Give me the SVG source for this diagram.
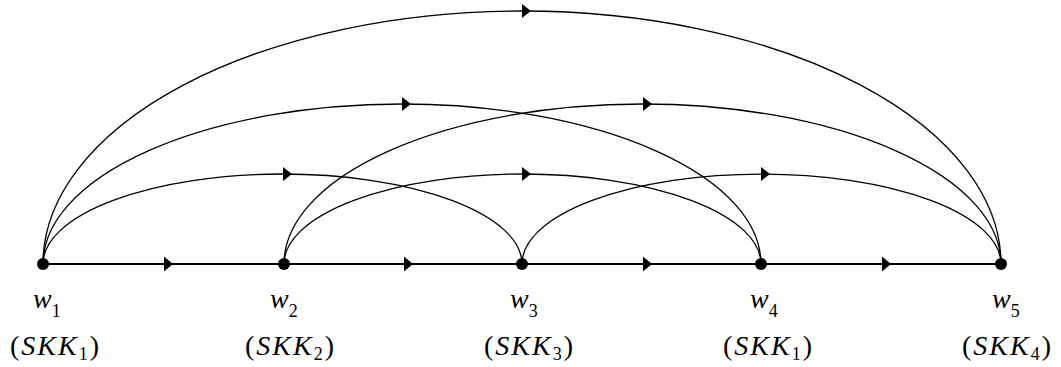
<svg xmlns="http://www.w3.org/2000/svg" width="1061" height="367" viewBox="0 0 1061 367">
<style>
.arc{fill:none;stroke:#000;stroke-width:1.3}
.edge{fill:none;stroke:#000;stroke-width:2}
.head{fill:#000}
.node{fill:#000}
.lbl{font-family:"Liberation Serif",serif;font-style:italic;font-size:28px;fill:#000}
.sub{font-size:18px;font-style:normal}
.up{font-style:normal}
.par{letter-spacing:2px}
</style>
<rect width="1061" height="367" fill="#fff"/>
<g id="connectors">
  <path class="edge" d="M43 264 H1001"/>
  <path class="arc" d="M43 264 A239.5 90 0 0 1 522 264"/>
  <path class="arc" d="M284 264 A238.5 90 0 0 1 761 264"/>
  <path class="arc" d="M522 264 A239.5 90 0 0 1 1001 264"/>
  <path class="arc" d="M43 264 A359 160 0 0 1 761 264"/>
  <path class="arc" d="M284 264 A358.5 160 0 0 1 1001 264"/>
  <path class="arc" d="M43 264 A479 253 0 0 1 1001 264"/>
  <path class="head" d="M164 256.5 L173 264 L164 271.5 Z"/>
  <path class="head" d="M404 256.5 L413 264 L404 271.5 Z"/>
  <path class="head" d="M643 256.5 L652 264 L643 271.5 Z"/>
  <path class="head" d="M882 256.5 L891 264 L882 271.5 Z"/>
  <path class="head" d="M283 167 L292 174 L283 181 Z"/>
  <path class="head" d="M522 167 L531 174 L522 181 Z"/>
  <path class="head" d="M761 167 L770 174 L761 181 Z"/>
  <path class="head" d="M402 97 L411 104 L402 111 Z"/>
  <path class="head" d="M643 97 L652 104 L643 111 Z"/>
  <path class="head" d="M522 4 L531 11 L522 18 Z"/>
</g>
<g id="w1">
  <circle class="node" cx="43" cy="264" r="6"/>
  <text class="lbl" x="33" y="308">w<tspan class="sub" dy="9">1</tspan></text>
  <text class="lbl par" x="10" y="355"><tspan class="up">(</tspan>SKK<tspan class="sub" dy="5">1</tspan><tspan class="up" dy="-5">)</tspan></text>
</g>
<g id="w2">
  <circle class="node" cx="284" cy="264" r="6"/>
  <text class="lbl" x="270" y="308">w<tspan class="sub" dy="9">2</tspan></text>
  <text class="lbl par" x="245" y="355"><tspan class="up">(</tspan>SKK<tspan class="sub" dy="5">2</tspan><tspan class="up" dy="-5">)</tspan></text>
</g>
<g id="w3">
  <circle class="node" cx="522" cy="264" r="6"/>
  <text class="lbl" x="510" y="308">w<tspan class="sub" dy="9">3</tspan></text>
  <text class="lbl par" x="484" y="355"><tspan class="up">(</tspan>SKK<tspan class="sub" dy="5">3</tspan><tspan class="up" dy="-5">)</tspan></text>
</g>
<g id="w4">
  <circle class="node" cx="761" cy="264" r="6"/>
  <text class="lbl" x="750" y="308">w<tspan class="sub" dy="9">4</tspan></text>
  <text class="lbl par" x="723" y="355"><tspan class="up">(</tspan>SKK<tspan class="sub" dy="5">1</tspan><tspan class="up" dy="-5">)</tspan></text>
</g>
<g id="w5">
  <circle class="node" cx="1001" cy="264" r="6"/>
  <text class="lbl" x="992" y="308">w<tspan class="sub" dy="9">5</tspan></text>
  <text class="lbl par" x="962" y="355"><tspan class="up">(</tspan>SKK<tspan class="sub" dy="5">4</tspan><tspan class="up" dy="-5">)</tspan></text>
</g>
</svg>
